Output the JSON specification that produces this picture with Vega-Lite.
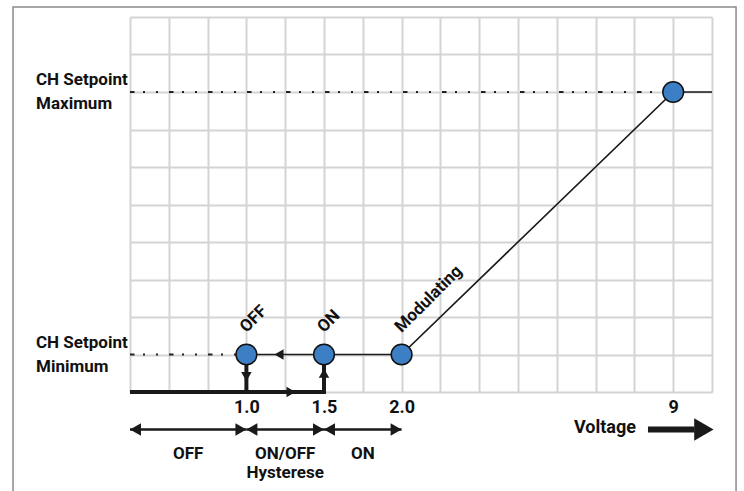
{
  "$schema": "https://vega.github.io/schema/vega-lite/v6.json",
  "width": 582,
  "height": 375,
  "autosize": {"type": "none"},
  "padding": {"left": 130, "top": 17, "right": 32, "bottom": 99},
  "background": "white",
  "config": {
    "view": {"stroke": null},
    "text": {"font": "Roboto, sans-serif", "fontWeight": "bold", "fontSize": 17, "color": "#111111"}
  },
  "resolve": {"axis": {"x": "independent", "y": "independent"}},
  "datasets": {
    "frame": [{"x1": -3.015, "x2": 15.62, "y1": -3.5, "y2": 10.27}],
    "curve": [{"v": 3, "t": 1}, {"v": 5, "t": 1}, {"v": 7, "t": 1}, {"v": 14, "t": 8}, {"v": 15, "t": 8}],
    "points": [{"v": 3, "t": 1, "label": "OFF"}, {"v": 5, "t": 1, "label": "ON"}, {"v": 7, "t": 1, "label": "Modulating"}, {"v": 14, "t": 8, "label": ""}],
    "guides": [{"line": "min", "v": 0, "t": 1}, {"line": "min", "v": 3, "t": 1}, {"line": "max", "v": 0, "t": 8}, {"line": "max", "v": 14, "t": 8}],
    "switching": [
      {"path": "rise", "i": 0, "v": 0, "t": 0}, {"path": "rise", "i": 1, "v": 5, "t": 0}, {"path": "rise", "i": 2, "v": 5, "t": 1},
      {"path": "fall", "i": 0, "v": 3, "t": 1}, {"path": "fall", "i": 1, "v": 3, "t": 0}
    ],
    "arrows": [{"v": 3.84, "t": 1, "dir": "left"}, {"v": 4.15, "t": 0, "dir": "right"}, {"v": 3, "t": 0.41, "dir": "down"}, {"v": 5, "t": 0.5, "dir": "up"}],
    "ranges": [{"from": 0, "to": 3, "mid": 1.5, "label": "OFF"}, {"from": 3, "to": 5, "mid": 4, "label": "ON/OFF\nHysterese"}, {"from": 5, "to": 7, "mid": 6, "label": "ON"}],
    "setpoints": [{"label": "CH Setpoint\nMaximum", "t": 8}, {"label": "CH Setpoint\nMinimum", "t": 1}],
    "voltage": [{"label": "Voltage", "textAt": 12.24, "shaftFrom": 13.35, "shaftTo": 14.55, "headAt": 14.79}]
  },
  "layer": [
    {
      "data": {"name": "curve"},
      "mark": {"type": "line", "color": "#1a1a1a", "strokeWidth": 1.7},
      "encoding": {
        "x": {"field": "v", "type": "quantitative", "scale": {"domain": [0, 15], "nice": false, "zero": false},
          "axis": {"values": [0,1,2,3,4,5,6,7,8,9,10,11,12,13,14,15], "grid": true, "gridColor": "#d4d4d4", "gridWidth": 2, "gridOpacity": 1, "domain": false, "ticks": false, "title": null,
            "labelExpr": "datum.value == 3 ? '1.0' : datum.value == 5 ? '1.5' : datum.value == 7 ? '2.0' : datum.value == 14 ? '9' : ''",
            "labelFont": "Roboto, sans-serif", "labelFontSize": 18, "labelFontWeight": "bold", "labelColor": "#111111", "labelPadding": 6, "labelOverlap": false, "labelFlush": false}},
        "y": {"field": "t", "type": "quantitative", "scale": {"domain": [0, 10], "nice": false, "zero": false},
          "axis": {"values": [0,1,2,3,4,5,6,7,8,9,10], "grid": true, "gridColor": "#d4d4d4", "gridWidth": 2, "gridOpacity": 1, "domain": false, "ticks": false, "labels": false, "title": null}}
      }
    },
    {
      "data": {"name": "frame"},
      "mark": {"type": "rect", "fill": null, "stroke": "#8a8a8a", "strokeWidth": 1.5},
      "encoding": {
        "x": {"field": "x1", "type": "quantitative", "axis": null}, "x2": {"field": "x2"},
        "y": {"field": "y1", "type": "quantitative", "axis": null}, "y2": {"field": "y2"}
      }
    },
    {
      "data": {"name": "guides"},
      "mark": {"type": "line", "color": "#222222", "strokeWidth": 1.8, "strokeDash": [4.5, 8.5, 2, 11, 2, 11]},
      "encoding": {
        "x": {"field": "v", "type": "quantitative", "axis": null},
        "y": {"field": "t", "type": "quantitative", "axis": null},
        "detail": {"field": "line"}
      }
    },
    {
      "data": {"name": "switching"},
      "mark": {"type": "line", "color": "#1a1a1a", "strokeWidth": 4, "strokeJoin": "miter", "strokeCap": "butt"},
      "encoding": {
        "x": {"field": "v", "type": "quantitative", "axis": null},
        "y": {"field": "t", "type": "quantitative", "axis": null},
        "detail": {"field": "path"},
        "order": {"field": "i", "type": "quantitative"}
      }
    },
    {
      "data": {"name": "arrows"},
      "mark": {"type": "point", "filled": true, "size": 110, "color": "#1a1a1a", "opacity": 1},
      "encoding": {
        "x": {"field": "v", "type": "quantitative", "axis": null},
        "y": {"field": "t", "type": "quantitative", "axis": null},
        "shape": {"field": "dir", "type": "nominal", "legend": null, "scale": {"domain": ["left", "right", "up", "down"], "range": ["triangle-left", "triangle-right", "triangle-up", "triangle-down"]}}
      }
    },
    {
      "data": {"name": "points"},
      "mark": {"type": "point", "shape": "circle", "filled": true, "fill": "#3d7fc5", "stroke": "#111111", "strokeWidth": 1.5, "size": 430, "opacity": 1},
      "encoding": {
        "x": {"field": "v", "type": "quantitative", "axis": null},
        "y": {"field": "t", "type": "quantitative", "axis": null}
      }
    },
    {
      "data": {"name": "points"},
      "mark": {"type": "text", "angle": -45, "align": "left", "baseline": "middle", "dx": 15, "dy": -20, "fontSize": 17},
      "encoding": {
        "x": {"field": "v", "type": "quantitative", "axis": null},
        "y": {"field": "t", "type": "quantitative", "axis": null},
        "text": {"field": "label"}
      }
    },
    {
      "data": {"name": "setpoints"},
      "mark": {"type": "text", "align": "left", "baseline": "middle", "dx": -94, "dy": -12, "lineBreak": "\n", "lineHeight": 24},
      "encoding": {
        "x": {"datum": 0, "type": "quantitative", "axis": null},
        "y": {"field": "t", "type": "quantitative", "axis": null},
        "text": {"field": "label"}
      }
    },
    {
      "data": {"name": "ranges"},
      "mark": {"type": "rule", "color": "#1a1a1a", "strokeWidth": 2.5},
      "encoding": {
        "x": {"field": "from", "type": "quantitative", "axis": null}, "x2": {"field": "to"},
        "y": {"datum": -1, "type": "quantitative", "axis": null}
      }
    },
    {
      "data": {"name": "ranges"},
      "mark": {"type": "point", "shape": "triangle-left", "filled": true, "size": 160, "color": "#1a1a1a", "opacity": 1, "xOffset": 5.5},
      "encoding": {
        "x": {"field": "from", "type": "quantitative", "axis": null},
        "y": {"datum": -1, "type": "quantitative", "axis": null}
      }
    },
    {
      "data": {"name": "ranges"},
      "mark": {"type": "point", "shape": "triangle-right", "filled": true, "size": 160, "color": "#1a1a1a", "opacity": 1, "xOffset": -5.5},
      "encoding": {
        "x": {"field": "to", "type": "quantitative", "axis": null},
        "y": {"datum": -1, "type": "quantitative", "axis": null}
      }
    },
    {
      "data": {"name": "ranges"},
      "mark": {"type": "text", "align": "center", "baseline": "middle", "dy": 62, "lineBreak": "\n", "lineHeight": 19},
      "encoding": {
        "x": {"field": "mid", "type": "quantitative", "axis": null},
        "y": {"datum": 0, "type": "quantitative", "axis": null},
        "text": {"field": "label"}
      }
    },
    {
      "data": {"name": "voltage"},
      "mark": {"type": "rule", "color": "#1a1a1a", "strokeWidth": 6},
      "encoding": {
        "x": {"field": "shaftFrom", "type": "quantitative", "axis": null}, "x2": {"field": "shaftTo"},
        "y": {"datum": -1, "type": "quantitative", "axis": null}
      }
    },
    {
      "data": {"name": "voltage"},
      "mark": {"type": "point", "shape": "triangle-right", "filled": true, "size": 500, "color": "#1a1a1a", "opacity": 1},
      "encoding": {
        "x": {"field": "headAt", "type": "quantitative", "axis": null},
        "y": {"datum": -1, "type": "quantitative", "axis": null}
      }
    },
    {
      "data": {"name": "voltage"},
      "mark": {"type": "text", "align": "center", "baseline": "middle", "dy": -2, "fontSize": 18},
      "encoding": {
        "x": {"field": "textAt", "type": "quantitative", "axis": null},
        "y": {"datum": -1, "type": "quantitative", "axis": null},
        "text": {"field": "label"}
      }
    }
  ]
}
